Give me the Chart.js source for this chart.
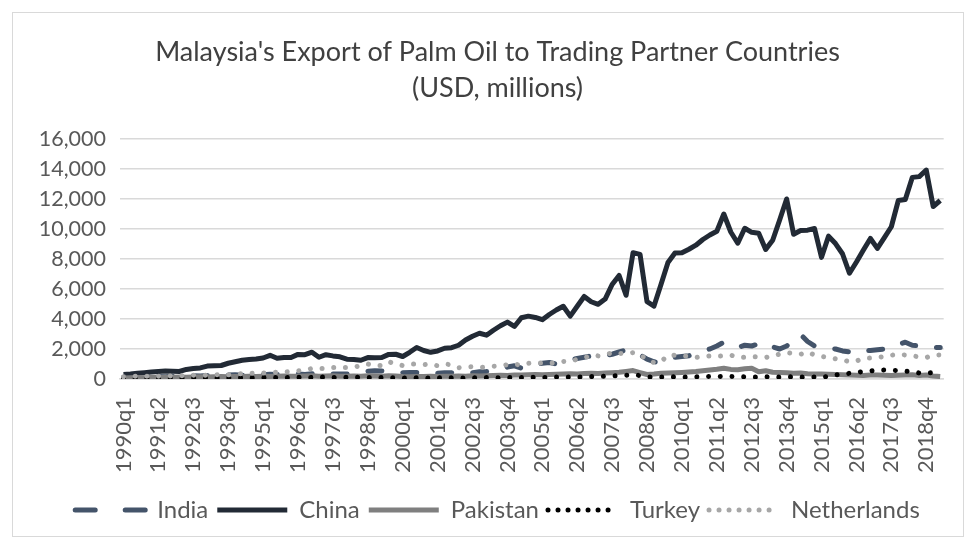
<!DOCTYPE html>
<html>
<head>
<meta charset="utf-8">
<script src="https://cdn.jsdelivr.net/npm/chart.js@4.4.1/dist/chart.umd.min.js"></script>
<style>
    html, body { margin: 0; padding: 0; background: #fff; }
    #wrap { position: absolute; left: 12px; top: 12px; width: 950px; height: 523px; border: 1px solid #d9d9d9; }
</style>
</head>
<body>
<div id="wrap"><canvas id="palmOilChart"></canvas></div>
<script>
// quarterly categories 1990q1 .. 2019q2
const firstYear = 1990;
const lastYear = 2019;
const lastQuarter = 2;

const quarters = [];
for (let y = firstYear; y <= lastYear; y++) {
    for (let q = 1; q <= 4; q++) {
        if (y === lastYear && q > lastQuarter) break;
        quarters.push(y + 'q' + q);
    }
}

const yTicks = [0, 2000, 4000, 6000, 8000, 10000, 12000, 14000, 16000];

const india = [
    120, 130, 150, 140, 160, 170, 150, 180, 200, 190,
    210, 200, 230, 220, 250, 260, 280, 250, 270, 300,
    280, 320, 300, 340, 330, 330, 300, 350, 380, 400,
    330, 330, 330, 420, 480, 520, 550, 540, 550, 470,
    420, 440, 440, 440, 430, 380, 420, 420, 400, 400,
    420, 480, 500, 550, 650, 800, 880, 720, 900, 1000,
    1050, 1100, 1000, 1150, 1250, 1370, 1450, 1540, 1500, 1550,
    1650, 1800, 1940, 1800, 1600, 1320, 1150, 1100, 1300, 1450,
    1500, 1550, 1700, 1870, 2000, 2200, 2450, 2300, 2100, 2250,
    2200, 2350, 2050, 2150, 2000, 2200, 2600, 2970, 2500, 2200,
    2100, 2050, 2000, 1870, 1800, 1700, 1870, 1900, 1950, 2000,
    2050, 2300, 2450, 2250, 2200, 2200, 2100, 2100
];

const china = [
    300, 330, 380, 420, 470, 500, 540, 520, 500, 640,
    700, 740, 860, 880, 900, 1050, 1150, 1250, 1300, 1330,
    1400, 1580, 1380, 1430, 1430, 1640, 1620, 1790, 1450, 1620,
    1540, 1480, 1320, 1300, 1250, 1430, 1420, 1430, 1640, 1650,
    1500, 1780, 2100, 1900, 1780, 1870, 2050, 2090, 2250, 2600,
    2850, 3050, 2920, 3250, 3550, 3790, 3500, 4080, 4190, 4100,
    3950, 4300, 4600, 4850, 4190, 4850, 5500, 5150, 4980, 5330,
    6300, 6900, 5580, 8420, 8310, 5150, 4860, 6300, 7760, 8400,
    8420, 8650, 8920, 9300, 9600, 9850, 11000, 9800, 9050, 10050,
    9780, 9720, 8640, 9250, 10600, 12000, 9650, 9900, 9920, 10030,
    8110, 9520, 9030, 8350, 7050, 7800, 8600, 9370, 8710, 9430,
    10150, 11900, 11970, 13440, 13490, 13930, 11500, 11900
];

const pakistan = [
    60, 80, 100, 90, 110, 100, 120, 110, 130, 120,
    140, 150, 130, 150, 160, 150, 170, 160, 180, 170,
    180, 170, 190, 200, 180, 190, 200, 210, 190, 200,
    210, 190, 180, 200, 190, 210, 200, 190, 210, 200,
    160, 150, 170, 160, 180, 170, 190, 180, 200, 190,
    210, 200, 220, 230, 250, 240, 260, 270, 280, 300,
    290, 300, 320, 330, 350, 340, 360, 380, 370, 400,
    420, 450, 500, 560, 430, 300, 330, 380, 400, 420,
    440, 470, 500, 550, 600, 650, 720, 640, 620, 680,
    720, 480, 550, 450, 430, 420, 380, 400, 350, 330,
    330, 320, 300, 280, 260, 250, 240, 260, 270, 250,
    240, 250, 260, 280, 230, 260, 200, 160
];

const turkey = [
    40, 50, 60, 50, 60, 70, 60, 80, 70, 60,
    80, 70, 90, 80, 70, 90, 80, 100, 90, 80,
    100, 110, 100, 90, 110, 120, 100, 110, 120, 130,
    110, 100, 120, 130, 110, 100, 90, 100, 80, 90,
    60, 70, 80, 60, 70, 80, 90, 80, 70, 60,
    80, 90, 100, 90, 80, 100, 110, 100, 120, 110,
    100, 120, 130, 120, 140, 130, 150, 160, 170, 180,
    200, 220, 250, 280, 230, 150, 120, 130, 150, 140,
    130, 140, 150, 160, 170, 160, 180, 170, 160, 150,
    140, 130, 150, 140, 130, 150, 140, 130, 120, 140,
    120, 180, 270, 330, 380, 430, 500, 540, 580, 600,
    580, 560, 520, 480, 400, 400, 420, 420
];

const netherlands = [
    150, 170, 200, 180, 200, 190, 220, 200, 230, 210,
    250, 230, 260, 280, 300, 280, 320, 350, 380, 400,
    400, 430, 450, 470, 500, 550, 600, 700, 700, 700,
    770, 770, 770, 800, 880, 1000, 900, 900, 1150, 1000,
    900, 1000, 1000, 950, 1000, 880, 1000, 950, 750, 800,
    820, 770, 800, 850, 880, 950, 990, 920, 1050, 1100,
    1060, 1040, 1100, 1170, 1210, 1300, 1400, 1590, 1540, 1600,
    1760, 1700, 1720, 1760, 1650, 1250, 1100, 1150, 1590, 1590,
    1560, 1500, 1430, 1500, 1540, 1500, 1550, 1590, 1450, 1450,
    1500, 1460, 1430, 1550, 1650, 1760, 1700, 1650, 1800, 1600,
    1500, 1440, 1350, 1280, 1150, 1200, 1370, 1400, 1430, 1500,
    1580, 1650, 1600, 1540, 1480, 1430, 1590, 1600
];

const FONT = "Lato, 'Liberation Sans', sans-serif";
Chart.defaults.font.family = FONT;
Chart.defaults.color = '#595959';

// title and legend sit a bit right of the chart centre, like the original
const shiftBoxes = {
    id: 'shiftBoxes',
    afterLayout(chart) {
        const dx = 18;
        [chart.titleBlock, chart.legend].forEach(box => {
            if (!box) return;
            box.left += dx;
            box.right += dx;
        });
    }
};

const ctx = document.getElementById('palmOilChart');

new Chart(ctx, {
    type: 'line',
    data: {
        labels: quarters,
        datasets: [{
            label: 'India',
            data: india,
            borderColor: '#44546a',
            borderWidth: 5,
            borderDash: [14, 21],
            legendDash: [20, 30],
            borderCapStyle: 'round',
            order: 5
        }, {
            label: 'China',
            data: china,
            borderColor: '#222a35',
            borderWidth: 5,
            order: 4
        }, {
            label: 'Pakistan',
            data: pakistan,
            borderColor: '#7f7f7f',
            borderWidth: 5,
            order: 3
        }, {
            label: 'Turkey',
            data: turkey,
            borderColor: '#000000',
            borderWidth: 5,
            borderDash: [0.01, 11.7],
            legendDash: [0.01, 10],
            borderCapStyle: 'round',
            order: 2
        }, {
            label: 'Netherlands',
            data: netherlands,
            borderColor: '#a7a7a7',
            borderWidth: 5,
            borderDash: [0.01, 11.7],
            legendDash: [0.01, 10],
            borderCapStyle: 'round',
            order: 1
        }]
    },
    plugins: [shiftBoxes],
    options: {
        responsive: true,
        maintainAspectRatio: false,
        animation: false,
        layout: {
            padding: { left: 0, right: 17, top: 0, bottom: 4 }
        },
        elements: {
            point: { radius: 0, hoverRadius: 0 },
            line: { tension: 0, fill: false, borderJoinStyle: 'round' }
        },
        plugins: {
            title: {
                display: true,
                text: ["Malaysia's Export of Palm Oil to Trading Partner Countries", '(USD, millions)'],
                color: '#404040',
                font: { size: 27, weight: 'normal', lineHeight: 1.333 },
                padding: { top: 21, bottom: 33 }
            },
            legend: {
                position: 'bottom',
                labels: {
                    usePointStyle: true,
                    pointStyle: 'line',
                    pointStyleWidth: 70,
                    color: '#595959',
                    font: { size: 24 },
                    padding: 9,
                    sort: (a, b) => a.datasetIndex - b.datasetIndex,
                    generateLabels: function (chart) {
                        const items = Chart.defaults.plugins.legend.labels.generateLabels(chart);
                        items.forEach(item => {
                            const ds = chart.data.datasets[item.datasetIndex];
                            item.lineDash = ds.legendDash || [];
                            item.lineCap = ds.borderCapStyle || 'butt';
                            item.lineWidth = ds.borderWidth;
                        });
                        return items;
                    }
                }
            },
            tooltip: { enabled: false }
        },
        scales: {
            x: {
                offset: true,
                afterFit: function (scale) { scale.height = 110; },
                grid: { display: false },
                border: { display: true, color: '#d9d9d9', width: 1.5 },
                ticks: {
                    autoSkip: false,
                    minRotation: 90,
                    maxRotation: 90,
                    padding: 10,
                    color: '#595959',
                    font: { size: 22 },
                    callback: function (value, index) {
                        return index % 5 === 0 ? quarters[index] : null;
                    }
                }
            },
            y: {
                min: yTicks[0],
                max: yTicks[yTicks.length - 1],
                afterFit: function (scale) { scale.width = 107; },
                afterBuildTicks: function (scale) {
                    scale.ticks = yTicks.map(v => ({ value: v }));
                },
                grid: { color: '#d9d9d9', lineWidth: 1.5, drawTicks: false },
                border: { display: false },
                ticks: {
                    padding: 14,
                    color: '#595959',
                    font: { size: 21.5 },
                    callback: v => v.toLocaleString('en-US')
                }
            }
        }
    }
});
</script>
</body>
</html>
